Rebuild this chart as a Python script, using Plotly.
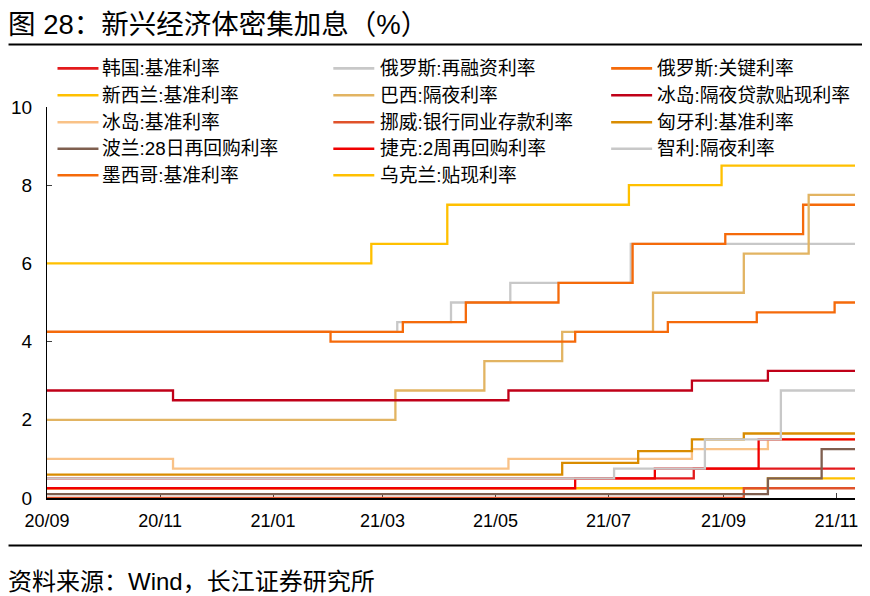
import plotly.graph_objects as go

START = "2020-09-01"
END = "2021-11-11"

series_names = [
    "韩国:基准利率", "俄罗斯:再融资利率", "俄罗斯:关键利率",
    "新西兰:基准利率", "巴西:隔夜利率", "冰岛:隔夜贷款贴现利率",
    "冰岛:基准利率", "挪威:银行同业存款利率", "匈牙利:基准利率",
    "波兰:28日再回购利率", "捷克:2周再回购利率", "智利:隔夜利率",
    "墨西哥:基准利率", "乌克兰:贴现利率",
]
series_colors = [
    "#E31A1C", "#C8C8C8", "#F56A0A",
    "#FFC000", "#E2B462", "#C00018",
    "#F9C287", "#E0522A", "#D98C00",
    "#7F5F4F", "#F00000", "#C8C8C8",
    "#F56A0A", "#FFC000",
]

# change dates and rate levels (%)
korea_dates = [START, "2021-08-16"]
korea_values = [0.5, 0.75]
ru_refi_dates = [START, "2021-03-09", "2021-04-07", "2021-05-09", "2021-07-13"]
ru_refi_values = [4.25, 4.5, 5.0, 5.5, 6.5]
ru_key_dates = [START, "2021-03-12", "2021-04-15", "2021-06-04", "2021-07-14", "2021-09-02", "2021-10-14"]
ru_key_values = [4.25, 4.5, 5.0, 5.5, 6.5, 6.75, 7.5]
nz_dates = [START, "2021-09-25"]
nz_values = [0.25, 0.5]
brazil_dates = [START, "2021-03-08", "2021-04-25", "2021-06-06", "2021-07-25", "2021-09-12", "2021-10-17"]
brazil_values = [2.0, 2.75, 3.5, 4.25, 5.25, 6.25, 7.75]
is_on_dates = [START, "2020-11-08", "2021-05-08", "2021-08-15", "2021-09-25"]
is_on_values = [2.75, 2.5, 2.75, 3.0, 3.25]
is_base_dates = [START, "2020-11-08", "2021-05-08", "2021-08-15", "2021-09-25"]
is_base_values = [1.0, 0.75, 1.0, 1.25, 1.5]
norway_dates = [START, "2021-09-12"]
norway_values = [0.0, 0.25]
hungary_dates = [START, "2021-06-06", "2021-07-17", "2021-08-15", "2021-09-12"]
hungary_values = [0.6, 0.9, 1.2, 1.5, 1.65]
poland_dates = [START, "2021-09-25", "2021-10-24"]
poland_values = [0.1, 0.5, 1.25]
czech_dates = [START, "2021-06-13", "2021-07-26", "2021-09-20"]
czech_values = [0.25, 0.5, 0.75, 1.5]
chile_dates = [START, "2021-07-04", "2021-08-22", "2021-10-02"]
chile_values = [0.5, 0.75, 1.5, 2.75]
mexico_dates = [START, "2021-02-01", "2021-06-13", "2021-08-02", "2021-09-19", "2021-10-31"]
mexico_values = [4.25, 4.0, 4.25, 4.5, 4.75, 5.0]
ukraine_dates = [START, "2021-02-23", "2021-04-05", "2021-07-12", "2021-08-31"]
ukraine_values = [6.0, 6.5, 7.5, 8.0, 8.5]

series_dates = [korea_dates, ru_refi_dates, ru_key_dates, nz_dates, brazil_dates,
                is_on_dates, is_base_dates, norway_dates, hungary_dates, poland_dates,
                czech_dates, chile_dates, mexico_dates, ukraine_dates]
series_values = [korea_values, ru_refi_values, ru_key_values, nz_values, brazil_values,
                 is_on_values, is_base_values, norway_values, hungary_values, poland_values,
                 czech_values, chile_values, mexico_values, ukraine_values]

y_ticks = [0, 2, 4, 6, 8, 10]
x_ticks = ["2020-09-01", "2020-11-01", "2021-01-01", "2021-03-01", "2021-05-01", "2021-07-01", "2021-09-01", "2021-11-01"]
x_tick_labels = ["20/09", "20/11", "21/01", "21/03", "21/05", "21/07", "21/09", "21/11"]

FONT = "Arial, 'Liberation Sans', 'Noto Sans CJK SC', sans-serif"

# the page body has an 8px default margin, so the figure is laid out 8px up/left
OFF = 8
W, H = 862, 588
plot_left, plot_right, plot_top, plot_bottom = 46.5, 855, 106.7, 498.4  # page coords
ml = plot_left - OFF
mr = W - (plot_right - OFF)
mt = plot_top - OFF
mb = H - (plot_bottom - OFF)
pw, ph = W - ml - mr, H - mt - mb


def px_x(x):
    return (x - OFF - ml) / pw


def px_y(y):
    return (H - mb - (y - OFF)) / ph


fig = go.Figure()
for name, color, d, v in zip(series_names, series_colors, series_dates, series_values):
    xs = list(d) + [END]
    ys = list(v) + [v[-1]]
    fig.add_trace(go.Scatter(
        x=xs, y=ys, mode="lines", name=name, showlegend=False,
        line=dict(color=color, width=2.3, shape="hv"),
    ))

# hand-placed legend in three columns (row-major order, like the reference)
legend_line_x = [57, 333, 611]
legend_text_x = [102, 380, 657]
legend_row_y = [68, 95, 122, 148.5, 175]
shapes = []
annotations = []
for i, (name, color) in enumerate(zip(series_names, series_colors)):
    r, c = divmod(i, 3)
    yy = px_y(legend_row_y[r])
    shapes.append(dict(type="line", xref="paper", yref="paper",
                       x0=px_x(legend_line_x[c]), x1=px_x(legend_line_x[c] + 41),
                       y0=yy, y1=yy, line=dict(color=color, width=2.6)))
    annotations.append(dict(text=name, xref="paper", yref="paper",
                            x=px_x(legend_text_x[c] - 2), y=yy,
                            xanchor="left", yanchor="middle", showarrow=False,
                            font=dict(family=FONT, size=18.8, color="#000000")))

shapes += [
    dict(type="line", xref="paper", yref="paper",
         x0=px_x(8), x1=px_x(866), y0=px_y(44), y1=px_y(44),
         line=dict(color="#000000", width=2)),
    dict(type="line", xref="paper", yref="paper",
         x0=px_x(8), x1=px_x(866), y0=px_y(546), y1=px_y(546),
         line=dict(color="#000000", width=2)),
]
annotations += [
    dict(text="图 28：新兴经济体密集加息（%）", xref="paper", yref="paper",
         x=px_x(5), y=px_y(24), xanchor="left", yanchor="middle",
         showarrow=False, font=dict(family=FONT, size=27.5, color="#000000")),
    dict(text="资料来源：Wind，长江证券研究所", xref="paper", yref="paper",
         x=px_x(5), y=px_y(582), xanchor="left", yanchor="middle",
         showarrow=False, font=dict(family=FONT, size=24, color="#000000")),
]

fig.update_layout(
    width=W, height=H,
    margin=dict(l=ml, r=mr, t=mt, b=mb, autoexpand=False),
    paper_bgcolor="white", plot_bgcolor="white",
    font=dict(family=FONT, size=17, color="#000000"),
    showlegend=False,
    xaxis=dict(
        type="date", range=[START, END],
        tickmode="array", tickvals=x_ticks, ticktext=x_tick_labels,
        ticks="inside", ticklen=5, tickcolor="#404040", tickwidth=1,
        showline=True, linecolor="#000000", linewidth=1.5,
        showgrid=False, zeroline=False, layer="below traces",
        tickfont=dict(family=FONT, size=18, color="#000000"),
        ticklabelstandoff=6,
    ),
    yaxis=dict(
        range=[0, 10], tickmode="array", tickvals=y_ticks,
        ticks="inside", ticklen=5, tickcolor="#404040", tickwidth=1,
        showline=True, linecolor="#000000", linewidth=1.2,
        showgrid=False, zeroline=False, layer="below traces",
        tickfont=dict(family=FONT, size=19, color="#000000"),
        ticklabelstandoff=10,
    ),
    shapes=shapes,
    annotations=annotations,
)

fig.write_html("out.html")
